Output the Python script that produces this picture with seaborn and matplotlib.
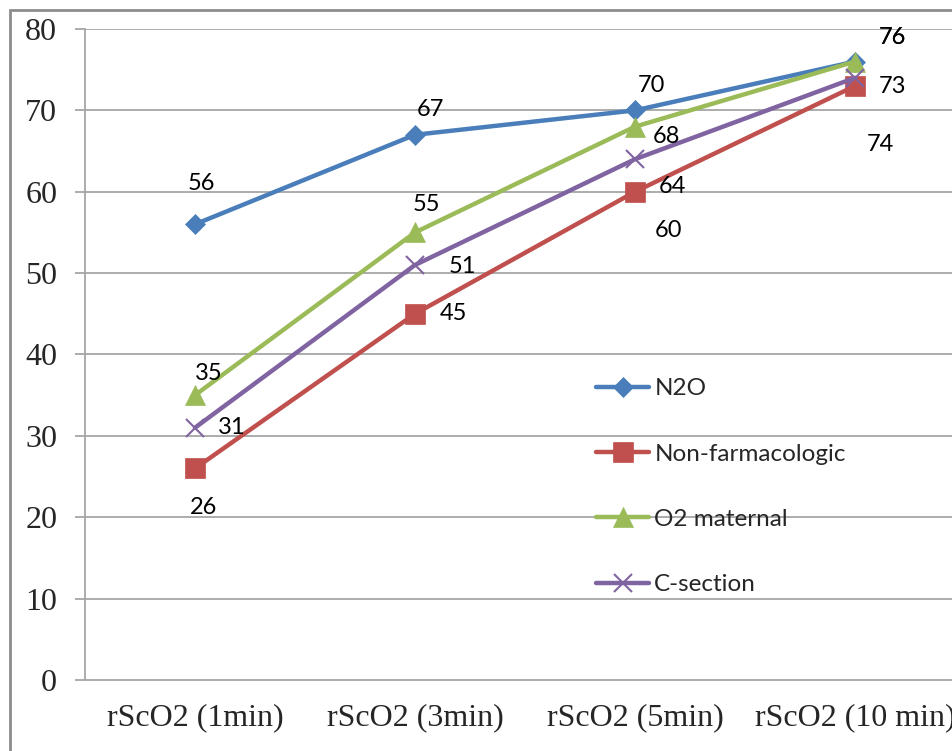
import matplotlib
matplotlib.use("Agg")
import matplotlib.pyplot as plt
import seaborn as sns
import pandas as pd
from matplotlib.patches import Rectangle

categories = ["rScO2 (1min)", "rScO2 (3min)", "rScO2 (5min)", "rScO2 (10 min)"]
series_names = ["N2O", "Non-farmacologic", "O2 maternal", "C-section"]
n2o = [56, 67, 70, 76]
non_farm = [26, 45, 60, 73]
o2_maternal = [35, 55, 68, 76]
c_section = [31, 51, 64, 74]
y_ticks = [0, 10, 20, 30, 40, 50, 60, 70, 80]

values = [n2o, non_farm, o2_maternal, c_section]
colors = ["#4A7EBB", "#C0504D", "#9BBB59", "#8064A2"]
markers = ["D", "s", "^", "x"]
msizes = [10, 14, 14, 13]

# label offsets in pixels (dx, dy down)
label_offsets = [
    [(6, -41), (15, -25), (16, -25), (37, -24)],
    [(9, 39), (38, 0), (34, 39), (37, 1)],
    [(14, -22), (11, -28), (31, 10), (37, -24)],
    [(37, 0), (47, 2), (37, 27), (25, 67)],
]

sns.set_theme(style="white")
fig = plt.figure(figsize=(9.52, 7.51), dpi=100)
ax = fig.add_axes([85 / 952, 1 - 680 / 751, 880 / 952, (680 - 29) / 751])

grid_c = "#A6A6A6"
for yv in y_ticks[1:]:
    ax.axhline(yv, color=grid_c, lw=1.3, zorder=0)

xpos = list(range(len(categories)))
for name, vals, c, m, ms in zip(series_names, values, colors, markers, msizes):
    df = pd.DataFrame({"x": xpos, "y": vals})
    sns.lineplot(data=df, x="x", y="y", ax=ax, color=c, lw=3.2, marker=m,
                 markersize=ms, markeredgecolor=c,
                 markeredgewidth=(1.5 if m == "x" else 0.5), label=name, zorder=3)

for vals, offs in zip(values, label_offsets):
    for i, (v, (dx, dy)) in enumerate(zip(vals, offs)):
        ax.annotate(str(v), (i, v), xytext=(dx, -dy), textcoords="offset pixels",
                    ha="center", va="center", fontsize=17, family="Lato",
                    color="black", zorder=5)

ax.set_xlim(-0.5, 3.5)
ax.set_ylim(0, 80)
ax.set_yticks(y_ticks)
ax.set_yticklabels([str(t) for t in y_ticks], family="Liberation Serif", fontsize=23)
ax.set_xticks(xpos)
ax.set_xticklabels(categories, family="Liberation Serif", fontsize=23)
ax.set_xticks([-0.5, 0.5, 1.5, 2.5, 3.5], minor=True)
ax.tick_params(axis="x", which="major", length=0, pad=17)
ax.tick_params(axis="x", which="minor", length=7, width=1.3, color=grid_c, direction="out")
ax.tick_params(axis="y", which="major", length=7, width=1.3, color=grid_c, direction="out", pad=13, left=True)
ax.set_xlabel("")
ax.set_ylabel("")
for s in ["top", "right"]:
    ax.spines[s].set_visible(False)
for s in ["left", "bottom"]:
    ax.spines[s].set_color(grid_c)
    ax.spines[s].set_linewidth(1.3)

leg = ax.legend(loc="upper left", bbox_to_anchor=(596 / 952, 1 - 378 / 751),
                bbox_transform=fig.transFigure, frameon=False, borderaxespad=0,
                borderpad=0, handlelength=2.2, handletextpad=0.2, labelspacing=1.83,
                prop={"family": "Lato", "size": 17.5})

fig.patches.append(Rectangle((10 / 952, -0.1), 1.2, 1 - 10 / 751 + 0.1,
                             transform=fig.transFigure, fill=False,
                             edgecolor="#8C8C8C", lw=2, zorder=-1))

fig.savefig("out.png", dpi=100)
